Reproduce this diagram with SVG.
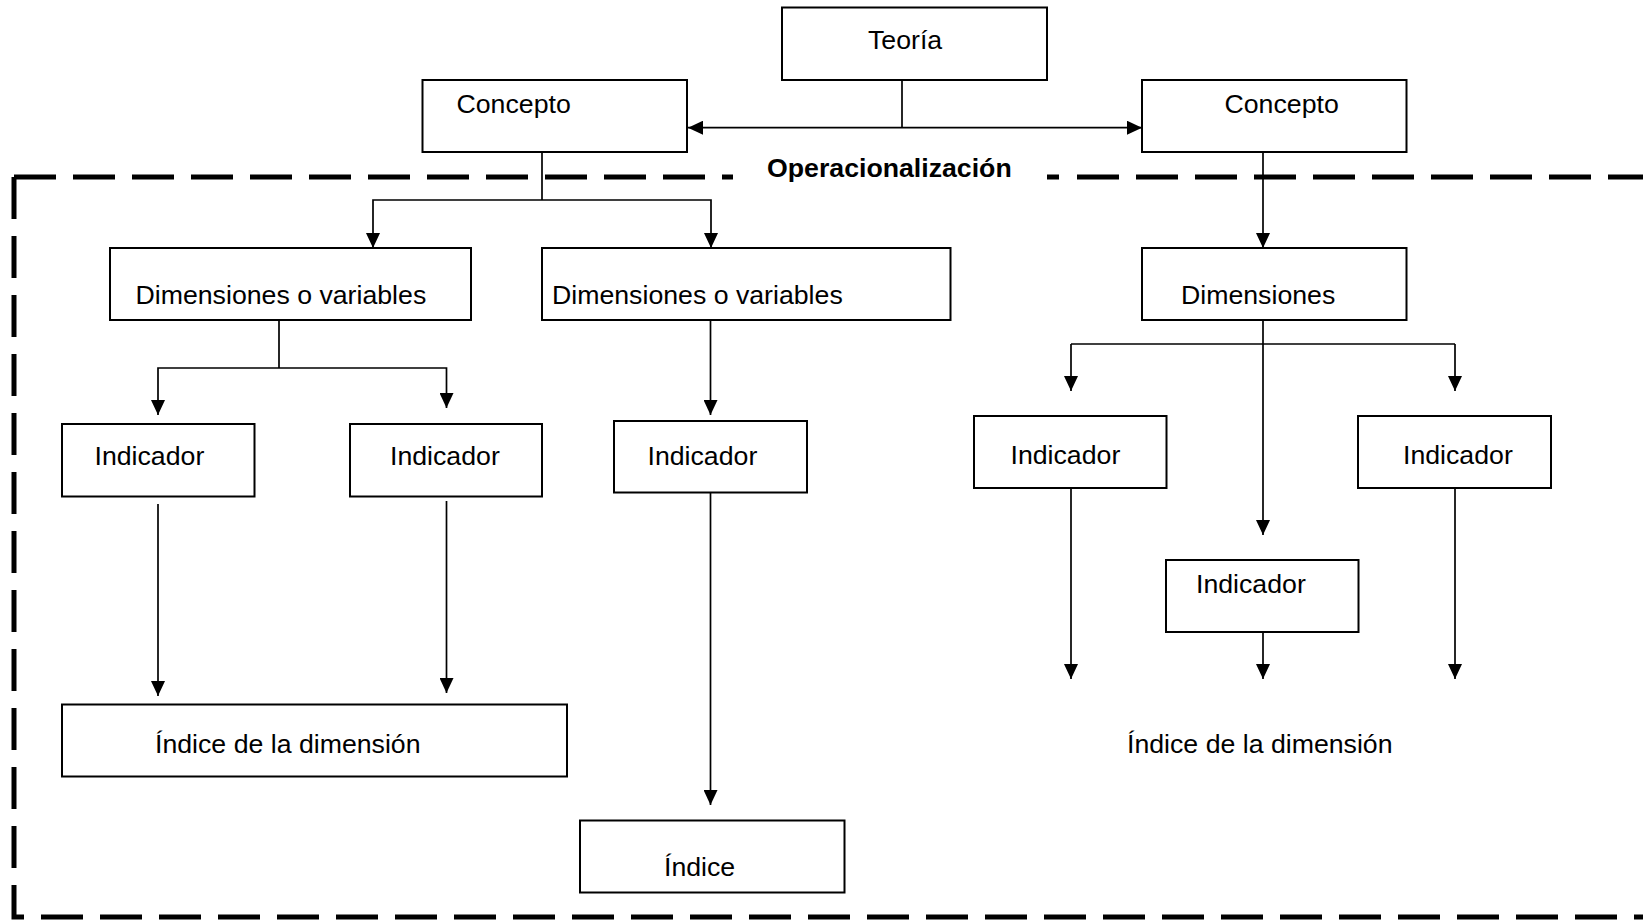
<svg xmlns="http://www.w3.org/2000/svg" width="1643" height="921" viewBox="0 0 1643 921">
<style>
.box{fill:#fff;stroke:#000;stroke-width:2}
.t{font-family:"Liberation Sans",Arial,sans-serif;font-size:26.7px;fill:#000}
.b{font-weight:bold}
.c{fill:none;stroke:#000;stroke-width:1.7}
.dash{fill:none;stroke:#000;stroke-width:5;stroke-dasharray:42 17}
</style>
<defs>
<marker id="ah" markerUnits="userSpaceOnUse" markerWidth="15" markerHeight="14" viewBox="0 0 15 14" refX="15" refY="7" orient="auto">
<path d="M0,0 L15,7 L0,14 z" fill="#000"/>
</marker>
</defs>
<rect width="1643" height="921" fill="#fff"/>
<g id="frame">
<path class="dash" d="M14,177 H733"/>
<path class="dash" d="M1047,177 H1643" style="stroke-dasharray:12 18 42 17 42 17 42 17 42 17 42 17 42 17 42 17 42 17 42 17 42 17"/>
<path class="dash" d="M14,177 V917 H1643"/>
<text class="t b" x="767" y="177">Operacionalización</text>
</g>
<g id="connectors">
<path class="c" d="M902,80 V127.7"/>
<path class="c" d="M902,127.7 H688" marker-end="url(#ah)"/>
<path class="c" d="M902,127.7 H1142" marker-end="url(#ah)"/>
<path class="c" d="M542,152 V200"/>
<path class="c" d="M542,200 H373 V248" marker-end="url(#ah)"/>
<path class="c" d="M542,200 H711 V248" marker-end="url(#ah)"/>
<path class="c" d="M1263,152 V248" marker-end="url(#ah)"/>
<path class="c" d="M279,320 V368"/>
<path class="c" d="M279,368 H158 V415" marker-end="url(#ah)"/>
<path class="c" d="M279,368 H446.5 V408" marker-end="url(#ah)"/>
<path class="c" d="M710.5,320 V415" marker-end="url(#ah)"/>
<path class="c" d="M158,504 V696" marker-end="url(#ah)"/>
<path class="c" d="M446.5,501 V693" marker-end="url(#ah)"/>
<path class="c" d="M710.5,492.5 V805" marker-end="url(#ah)"/>
<path class="c" d="M1263,320 V535" marker-end="url(#ah)"/>
<path class="c" d="M1071,344 H1455"/>
<path class="c" d="M1071,344 V391" marker-end="url(#ah)"/>
<path class="c" d="M1455,344 V391" marker-end="url(#ah)"/>
<path class="c" d="M1071,488 V679" marker-end="url(#ah)"/>
<path class="c" d="M1263,632 V679" marker-end="url(#ah)"/>
<path class="c" d="M1455,488 V679" marker-end="url(#ah)"/>
</g>
<g id="teoria"><rect class="box" x="782" y="7.5" width="265" height="72.5"/><text class="t" x="868" y="49">Teoría</text></g>
<g id="concepto-izq"><rect class="box" x="422.5" y="80" width="264.5" height="72"/><text class="t" x="456.5" y="113">Concepto</text></g>
<g id="concepto-der"><rect class="box" x="1142" y="80" width="264.5" height="72"/><text class="t" x="1224.5" y="113">Concepto</text></g>
<g id="dim-1"><rect class="box" x="110" y="248" width="361" height="72"/><text class="t" x="135.5" y="304">Dimensiones o variables</text></g>
<g id="dim-2"><rect class="box" x="542" y="248" width="408.5" height="72"/><text class="t" x="552" y="304">Dimensiones o variables</text></g>
<g id="dim-3"><rect class="box" x="1142" y="248" width="264.5" height="72"/><text class="t" x="1181" y="304">Dimensiones</text></g>
<g id="ind-1"><rect class="box" x="62" y="424" width="192.5" height="72.5"/><text class="t" x="94.5" y="465">Indicador</text></g>
<g id="ind-2"><rect class="box" x="350" y="424" width="192" height="72.5"/><text class="t" x="390" y="465">Indicador</text></g>
<g id="ind-3"><rect class="box" x="614" y="421" width="193" height="71.5"/><text class="t" x="647.5" y="465">Indicador</text></g>
<g id="ind-4"><rect class="box" x="974" y="416" width="192.5" height="72"/><text class="t" x="1010.5" y="464">Indicador</text></g>
<g id="ind-5"><rect class="box" x="1358" y="416" width="193" height="72"/><text class="t" x="1403" y="464">Indicador</text></g>
<g id="ind-6"><rect class="box" x="1166" y="560" width="192.5" height="72"/><text class="t" x="1196" y="592.5">Indicador</text></g>
<g id="indice-dim-1"><rect class="box" x="62" y="704.5" width="505" height="72"/><text class="t" x="155" y="752.5">Índice de la dimensión</text></g>
<g id="indice"><rect class="box" x="580" y="820.5" width="264.5" height="72"/><text class="t" x="664" y="876">Índice</text></g>
<g id="indice-dim-2"><text class="t" x="1127" y="752.5">Índice de la dimensión</text></g>
</svg>
